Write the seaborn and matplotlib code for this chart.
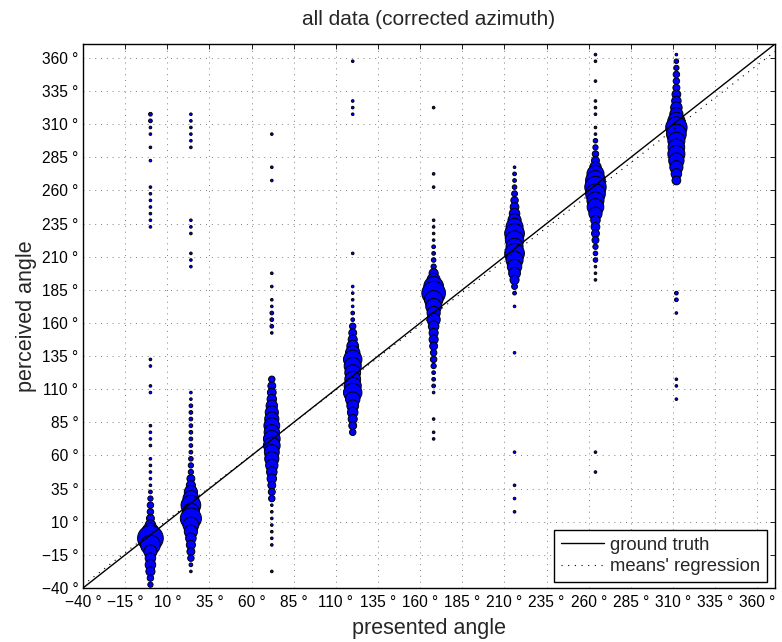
import matplotlib
matplotlib.use("Agg")
import matplotlib.pyplot as plt
import seaborn as sns
import pandas as pd

# ---------------- data ----------------
presented = [0, 24, 72, 120, 168, 216, 264, 312]

p000_y = [317.5, 312.5, 307.5, 302.5, 292.5, 282.5, 262.5, 257.5, 252.5, 247.5, 242.5, 237.5, 232.5,
          132.5, 127.5, 112.5, 107.5, 82.5, 77.5, 72.5, 67.5, 57.5, 52.5, 47.5, 42.5, 37.5, 32.5,
          27.5, 22.5, 17.5, 12.5, 7.5, 2.5, -2.5, -7.5, -12.5, -17.5, -22.5, -27.5, -32.5, -37.5]
p000_n = [2, 2, 1, 1, 1, 1, 1, 1, 1, 1, 1, 1, 1,
          1, 1, 1, 1, 1, 1, 1, 1, 1, 1, 1, 1, 1, 2,
          4, 6, 6, 9, 16, 42, 95, 56, 25, 16, 16, 12, 6, 4]

p024_y = [317.5, 312.5, 307.5, 302.5, 297.5, 292.5, 237.5, 232.5, 227.5, 212.5, 207.5, 202.5,
          107.5, 102.5, 97.5, 92.5, 87.5, 82.5, 77.5, 72.5, 67.5, 62.5, 57.5, 52.5, 47.5, 42.5,
          37.5, 32.5, 27.5, 22.5, 17.5, 12.5, 7.5, 2.5, -2.5, -7.5, -12.5, -17.5, -22.5, -27.5]
p024_n = [1, 1, 1, 1, 1, 1, 1, 1, 1, 1, 1, 1,
          1, 1, 2, 2, 2, 2, 2, 2, 2, 2, 3, 4, 4, 9,
          12, 25, 36, 56, 42, 64, 36, 25, 16, 12, 9, 6, 2, 1]

p072_y = [302.5, 277.5, 267.5, 197.5, 187.5, 177.5, 172.5, 167.5, 162.5, 157.5, 152.5,
          117.5, 112.5, 107.5, 102.5, 97.5, 92.5, 87.5, 82.5, 77.5, 72.5, 67.5, 62.5, 57.5,
          52.5, 47.5, 42.5, 37.5, 32.5, 27.5, 22.5, 17.5, 12.5, 7.5, 2.5, -2.5, -7.5, -27.5]
p072_n = [1, 1, 1, 1, 1, 1, 1, 2, 2, 2, 1,
          6, 9, 11, 13, 19, 25, 29, 36, 34, 40, 40, 32, 29,
          22, 16, 13, 9, 7, 6, 1, 1, 1, 1, 1, 1, 1, 1]

p120_y = [357.5, 327.5, 322.5, 317.5, 212.5, 187.5, 182.5, 177.5, 172.5, 167.5, 162.5,
          157.5, 152.5, 147.5, 142.5, 137.5, 132.5, 127.5, 122.5, 117.5, 112.5, 107.5,
          102.5, 97.5, 92.5, 87.5, 82.5, 77.5]
p120_n = [1, 1, 1, 1, 1, 1, 1, 1, 1, 2, 2,
          6, 9, 12, 20, 30, 49, 42, 36, 36, 42, 49,
          30, 20, 16, 12, 9, 6]

p168_y = [322.5, 272.5, 262.5, 237.5, 232.5, 227.5, 222.5, 217.5, 212.5, 207.5, 202.5,
          197.5, 192.5, 187.5, 182.5, 177.5, 172.5, 167.5, 162.5, 157.5, 152.5, 147.5,
          142.5, 137.5, 132.5, 127.5, 122.5, 117.5, 112.5, 107.5, 87.5, 77.5, 72.5]
p168_n = [1, 1, 1, 1, 1, 1, 1, 2, 2, 3, 4,
          12, 25, 56, 80, 49, 36, 25, 25, 16, 12, 12,
          9, 6, 6, 4, 2, 2, 2, 1, 1, 1, 1]

p216_y = [277.5, 272.5, 267.5, 262.5, 257.5, 252.5, 247.5, 242.5, 237.5, 232.5, 227.5,
          222.5, 217.5, 212.5, 207.5, 202.5, 197.5, 192.5, 187.5, 182.5, 172.5,
          137.5, 62.5, 37.5, 27.5, 17.5]
p216_n = [1, 2, 2, 3, 5, 8, 11, 16, 25, 42, 56,
          49, 42, 56, 42, 30, 20, 12, 5, 2, 1,
          1, 1, 1, 1, 1]

p264_y = [362.5, 357.5, 342.5, 327.5, 322.5, 317.5, 307.5, 302.5,
          297.5, 292.5, 287.5, 282.5, 277.5, 272.5, 267.5, 262.5, 257.5, 252.5, 247.5,
          242.5, 237.5, 232.5, 227.5, 222.5, 217.5, 212.5, 207.5, 202.5, 197.5, 192.5,
          62.5, 47.5]
p264_n = [1, 1, 1, 1, 1, 1, 1, 1,
          3, 4, 6, 9, 19, 42, 56, 66, 56, 42, 40,
          25, 13, 11, 9, 7, 4, 3, 3, 1, 1, 1,
          1, 1]

p312_y = [362.5, 357.5, 352.5, 347.5, 342.5, 337.5, 332.5, 327.5, 322.5, 317.5, 312.5,
          307.5, 302.5, 297.5, 292.5, 287.5, 282.5, 277.5, 272.5, 267.5,
          182.5, 177.5, 167.5, 117.5, 112.5, 102.5]
p312_n = [1, 3, 4, 6, 6, 7, 11, 13, 19, 25, 42,
          66, 56, 42, 40, 42, 34, 25, 16, 11,
          2, 2, 1, 1, 1, 1]

# means' regression line (end points)
regression_x = [-40, 370.5]
regression_y = [-37.8, 364.9]

tick_values = list(range(-40, 361, 25))
tick_labels = [("\u2212" if t < 0 else "") + f"{abs(t)} °" for t in tick_values]

# ---------------- build table ----------------
cols_y = [p000_y, p024_y, p072_y, p120_y, p168_y, p216_y, p264_y, p312_y]
cols_n = [p000_n, p024_n, p072_n, p120_n, p168_n, p216_n, p264_n, p312_n]
rows = []
for xv, ys, ns in zip(presented, cols_y, cols_n):
    for yv, nv in zip(ys, ns):
        rows.append({"presented": xv, "perceived": yv, "count": nv})
df = pd.DataFrame(rows)

# ---------------- plot ----------------
sns.set_theme(style="white")
plt.rcParams['font.family'] = ['Liberation Sans', 'DejaVu Sans']
plt.rcParams['axes.unicode_minus'] = True

fig = plt.figure(figsize=(7.82, 6.42), dpi=100)
ax = fig.add_axes([83 / 782, (642 - 588) / 642, 692 / 782, 544 / 642])

K = 3.6  # pt^2 per count
nmin, nmax = df["count"].min(), df["count"].max()
sns.scatterplot(data=df, x="presented", y="perceived", size="count",
                sizes=(K * nmin, K * nmax), size_norm=(nmin, nmax),
                color="#0000ff", edgecolor="black", linewidth=0.7,
                legend=False, ax=ax, zorder=3)

lo, hi = -40, 370.5
ax.plot([lo, hi], [lo, hi], color="black", lw=1.0, zorder=4, label="ground truth")
ax.plot(regression_x, regression_y, color="black", lw=0.8,
        linestyle=(0, (1, 5)), zorder=4, label="means' regression")

ax.set_xlim(lo, hi)
ax.set_ylim(lo, hi)
ax.set_xticks(tick_values)
ax.set_yticks(tick_values)
ax.set_xticklabels(tick_labels, fontsize=11.2)
ax.set_yticklabels(tick_labels, fontsize=11.2)
ax.tick_params(direction="in", length=3.6, width=0.6, top=True, right=True,
               labeltop=False, labelright=False, colors="black")
ax.tick_params(axis="x", pad=5)
ax.tick_params(axis="y", pad=3.5)

ax.grid(True, linestyle=(0, (1, 5)), color="#7f7f7f", lw=0.7)
ax.set_axisbelow(True)
for s in ax.spines.values():
    s.set_color("black")
    s.set_linewidth(1.0)

ax.set_xlabel("presented angle", fontsize=15.5, labelpad=6)
ax.set_ylabel("perceived angle", fontsize=15.5, labelpad=3)
ax.set_title("all data (corrected azimuth)", fontsize=15, pad=14)

leg = ax.legend(loc="lower right", bbox_to_anchor=((767 - 83) / 692, (588 - 582) / 544),
                borderaxespad=0, fancybox=False, framealpha=1, edgecolor="black",
                fontsize=13.3, handlelength=2.35, handletextpad=0.32, labelspacing=0.22,
                borderpad=0.38)
leg.get_frame().set_linewidth(1.0)

fig.savefig("out.png", dpi=100)
